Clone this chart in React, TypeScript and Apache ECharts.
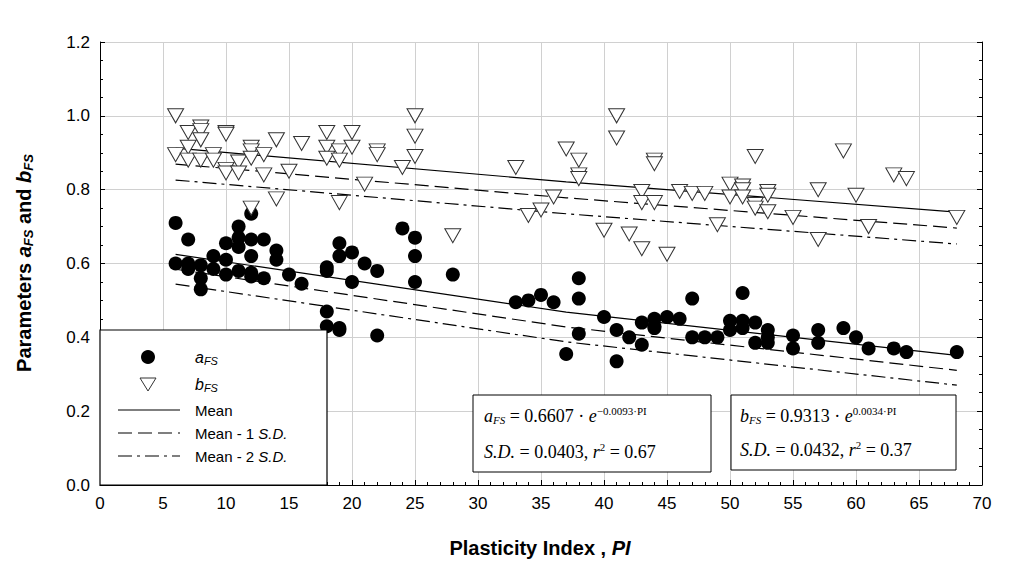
import React, { useEffect, useRef } from "react";
import * as echarts from "echarts";

const aFS: [number, number][] = [
  [6,0.71],[6,0.60],[7,0.665],[7,0.60],[7,0.585],[8,0.595],[8,0.56],[8,0.53],[9,0.62],[9,0.585],
  [10,0.655],[10,0.61],[10,0.57],[11,0.70],[11,0.67],[11,0.645],[11,0.58],[12,0.735],[12,0.665],[12,0.62],
  [12,0.575],[12,0.565],[13,0.665],[13,0.56],[14,0.635],[14,0.61],[15,0.57],[16,0.545],[18,0.59],[18,0.58],
  [18,0.47],[18,0.43],[19,0.655],[19,0.62],[19,0.425],[19,0.42],[20,0.63],[20,0.55],[21,0.60],[22,0.58],
  [22,0.405],[24,0.695],[25,0.67],[25,0.62],[25,0.55],[28,0.57],[33,0.495],[34,0.50],[35,0.515],[36,0.495],
  [37,0.355],[38,0.56],[38,0.505],[38,0.41],[40,0.455],[41,0.42],[41,0.335],[42,0.40],[43,0.44],[43,0.38],
  [44,0.45],[44,0.43],[44,0.425],[45,0.455],[46,0.45],[47,0.505],[47,0.40],[48,0.40],[49,0.40],[50,0.445],
  [50,0.42],[51,0.52],[51,0.445],[51,0.425],[52,0.44],[52,0.385],[53,0.42],[53,0.40],[53,0.385],[55,0.405],
  [55,0.37],[57,0.42],[57,0.385],[59,0.425],[60,0.40],[61,0.37],[63,0.37],[64,0.36],[68,0.36],
];
const bFS: [number, number][] = [
  [6,1.0],[6,0.895],[7,0.955],[7,0.915],[7,0.88],[8,0.97],[8,0.96],[8,0.935],[8,0.88],[9,0.895],[9,0.88],
  [10,0.955],[10,0.95],[10,0.855],[10,0.845],[11,0.875],[11,0.845],[12,0.915],[12,0.905],[12,0.75],[12,0.885],
  [13,0.895],[13,0.84],[14,0.935],[14,0.775],[15,0.85],[16,0.925],[18,0.955],[18,0.915],[18,0.885],[19,0.905],
  [19,0.88],[19,0.765],[20,0.955],[20,0.915],[21,0.815],[22,0.905],[22,0.895],[24,0.86],[25,1.0],[25,0.945],
  [25,0.89],[28,0.675],[33,0.86],[34,0.73],[35,0.745],[36,0.78],[37,0.91],[38,0.88],[38,0.84],[38,0.83],
  [40,0.69],[41,1.0],[41,0.94],[42,0.68],[43,0.795],[43,0.765],[43,0.64],[44,0.88],[44,0.87],[44,0.765],
  [45,0.625],[46,0.795],[47,0.79],[48,0.79],[49,0.705],[50,0.815],[50,0.78],[51,0.81],[51,0.8],[51,0.78],
  [52,0.89],[52,0.76],[52,0.75],[53,0.795],[53,0.785],[53,0.74],[55,0.725],[57,0.8],[57,0.665],[59,0.905],
  [60,0.785],[61,0.70],[63,0.84],[64,0.83],[68,0.725],
];
const fitPI = [6, 37, 68];
const aMean = [0.6248, 0.4683, 0.351];
const aSD = 0.0403;
const bMean = [0.9125, 0.8212, 0.7392];
const bSD = 0.0432;

const TRI = "path://M0,0 L10,0 L5,9 Z";
const dashed = [14, 6];
const dashDot = [14, 5, 3, 5];

function line(y: number[], off: number, type: any) {
  return {
    type: "line", showSymbol: false, symbol: "none", silent: true,
    data: fitPI.map((x, i) => [x, y[i] - off]),
    lineStyle: { color: "#000", width: 1.2, type }, z: 3,
  };
}

export default function App() {
  const ref = useRef<HTMLDivElement>(null);
  useEffect(() => {
    const chart = echarts.init(ref.current!, null, { renderer: "svg" });
    const lbl = { fontFamily: "Liberation Sans", fontSize: 17, color: "#000" };
    const serif = "Liberation Serif";
    const legY = [357, 384, 410, 433, 456];
    const axisCommon = {
      axisLine: { show: true, lineStyle: { color: "#000" } },
      axisTick: { inside: true, lineStyle: { color: "#000" } },
    };
    chart.setOption({
      animation: false,
      backgroundColor: "#fff",
      grid: { left: 100, right: 42, top: 42, bottom: 85 },
      xAxis: {
        type: "value", min: 0, max: 70, interval: 5, ...axisCommon,
        minorTick: { show: true, splitNumber: 5, lineStyle: { color: "#000" } },
        axisLabel: { ...lbl, margin: 10 },
        splitLine: { show: true, lineStyle: { color: "#d0d0d0" } },
      },
      yAxis: [{
        type: "value", min: 0, max: 1.2, interval: 0.2, ...axisCommon,
        minorTick: { show: true, splitNumber: 4, lineStyle: { color: "#000" } },
        axisLabel: { ...lbl, margin: 10, formatter: (v: number) => v.toFixed(1) },
        splitLine: { show: true, lineStyle: { color: "#d0d0d0" } },
      }, {
        type: "value", min: 0, max: 1.2, interval: 0.2, position: "right", ...axisCommon,
        minorTick: { show: true, splitNumber: 4, lineStyle: { color: "#000" } },
        axisLabel: { show: false }, splitLine: { show: false },
      }],
      series: [
        line(aMean, 0, "solid"), line(aMean, aSD, dashed), line(aMean, 2 * aSD, dashDot),
        line(bMean, 0, "solid"), line(bMean, bSD, dashed), line(bMean, 2 * bSD, dashDot),
        { type: "scatter", data: aFS, symbol: "circle", symbolSize: 14, itemStyle: { color: "#000", opacity: 1 }, z: 5 },
        { type: "scatter", data: bFS, symbol: TRI, symbolSize: [16, 14], itemStyle: { color: "#fff", opacity: 1, borderColor: "#333", borderWidth: 1 }, z: 5 },
      ],
      graphic: [
        { type: "text", x: 540, y: 548, style: { text: "Plasticity Index , {i|PI}", font: "bold 20px Liberation Sans", fill: "#000", align: "center", verticalAlign: "middle",
          rich: { i: { font: "bold italic 20px Liberation Sans", fill: "#000" } } } },
        { type: "text", x: 24, y: 263, rotation: Math.PI / 2, style: {
          text: "Parameters {i|a}{s|FS} and {i|b}{s|FS}", font: "bold 20px Liberation Sans", fill: "#000", align: "center", verticalAlign: "middle",
          rich: { i: { font: "bold italic 20px Liberation Sans", fill: "#000" }, s: { font: "bold italic 13px Liberation Sans", fill: "#000", padding: [8, 0, 0, 0] } } } },
        { type: "rect", shape: { x: 100, y: 330, width: 227, height: 155 }, style: { fill: "#fff", stroke: "#000", lineWidth: 1.2 }, z: 10 },
        { type: "circle", shape: { cx: 148, cy: legY[0], r: 7 }, style: { fill: "#000" }, z: 11 },
        { type: "polygon", shape: { points: [[140, legY[1] - 6], [156, legY[1] - 6], [148, legY[1] + 7]] }, style: { fill: "#fff", stroke: "#333" }, z: 11 },
        { type: "line", shape: { x1: 118, y1: legY[2], x2: 180, y2: legY[2] }, style: { stroke: "#000", lineWidth: 1.2 }, z: 11 },
        { type: "line", shape: { x1: 118, y1: legY[3], x2: 180, y2: legY[3] }, style: { stroke: "#000", lineWidth: 1.2, lineDash: dashed }, z: 11 },
        { type: "line", shape: { x1: 118, y1: legY[4], x2: 180, y2: legY[4] }, style: { stroke: "#000", lineWidth: 1.2, lineDash: dashDot }, z: 11 },
        { type: "text", x: 195, y: legY[0], z: 11, style: { text: "{i|a}{s|FS}", verticalAlign: "middle", rich: { i: { font: "italic 16px Liberation Sans", fill: "#000" }, s: { font: "italic 11px Liberation Sans", fill: "#000", padding: [8, 0, 0, 0] } } } },
        { type: "text", x: 195, y: legY[1], z: 11, style: { text: "{i|b}{s|FS}", verticalAlign: "middle", rich: { i: { font: "italic 16px Liberation Sans", fill: "#000" }, s: { font: "italic 11px Liberation Sans", fill: "#000", padding: [8, 0, 0, 0] } } } },
        { type: "text", x: 195, y: legY[2], z: 11, style: { text: "Mean", font: "15px Liberation Sans", fill: "#000", verticalAlign: "middle" } },
        { type: "text", x: 195, y: legY[3], z: 11, style: { text: "Mean - 1 {i|S.D.}", font: "15px Liberation Sans", fill: "#000", verticalAlign: "middle", rich: { i: { font: "italic 15px Liberation Sans", fill: "#000" } } } },
        { type: "text", x: 195, y: legY[4], z: 11, style: { text: "Mean - 2 {i|S.D.}", font: "15px Liberation Sans", fill: "#000", verticalAlign: "middle", rich: { i: { font: "italic 15px Liberation Sans", fill: "#000" } } } },
        { type: "rect", shape: { x: 473, y: 395, width: 238, height: 77 }, style: { fill: "#fff", stroke: "#000", lineWidth: 1 }, z: 10 },
        { type: "rect", shape: { x: 731, y: 395, width: 225, height: 75 }, style: { fill: "#fff", stroke: "#000", lineWidth: 1 }, z: 10 },
        { type: "text", x: 484, y: 416, z: 11, style: { text: "{i|a}{s|FS} = 0.6607 · {i|e}{p|−0.0093·PI}", font: `18px ${serif}`, fill: "#000", verticalAlign: "middle",
          rich: { i: { font: `italic 18px ${serif}`, fill: "#000" }, s: { font: `italic 11px ${serif}`, fill: "#000", padding: [8, 0, 0, 0] }, p: { font: `11px ${serif}`, fill: "#000", padding: [0, 0, 10, 0] } } } },
        { type: "text", x: 484, y: 452, z: 11, style: { text: "{i|S.D.} = 0.0403, {i|r}{p|2} = 0.67", font: `18px ${serif}`, fill: "#000", verticalAlign: "middle",
          rich: { i: { font: `italic 18px ${serif}`, fill: "#000" }, p: { font: `11px ${serif}`, fill: "#000", padding: [0, 0, 10, 0] } } } },
        { type: "text", x: 740, y: 416, z: 11, style: { text: "{i|b}{s|FS} = 0.9313 · {i|e}{p|0.0034·PI}", font: `18px ${serif}`, fill: "#000", verticalAlign: "middle",
          rich: { i: { font: `italic 18px ${serif}`, fill: "#000" }, s: { font: `italic 11px ${serif}`, fill: "#000", padding: [8, 0, 0, 0] }, p: { font: `11px ${serif}`, fill: "#000", padding: [0, 0, 10, 0] } } } },
        { type: "text", x: 740, y: 450, z: 11, style: { text: "{i|S.D.} = 0.0432, {i|r}{p|2} = 0.37", font: `18px ${serif}`, fill: "#000", verticalAlign: "middle",
          rich: { i: { font: `italic 18px ${serif}`, fill: "#000" }, p: { font: `11px ${serif}`, fill: "#000", padding: [0, 0, 10, 0] } } } },
      ],
    });
    return () => chart.dispose();
  }, []);
  return <div ref={ref} style={{ width: 1024, height: 570, position: "absolute", left: 0, top: 0 }} />;
}
